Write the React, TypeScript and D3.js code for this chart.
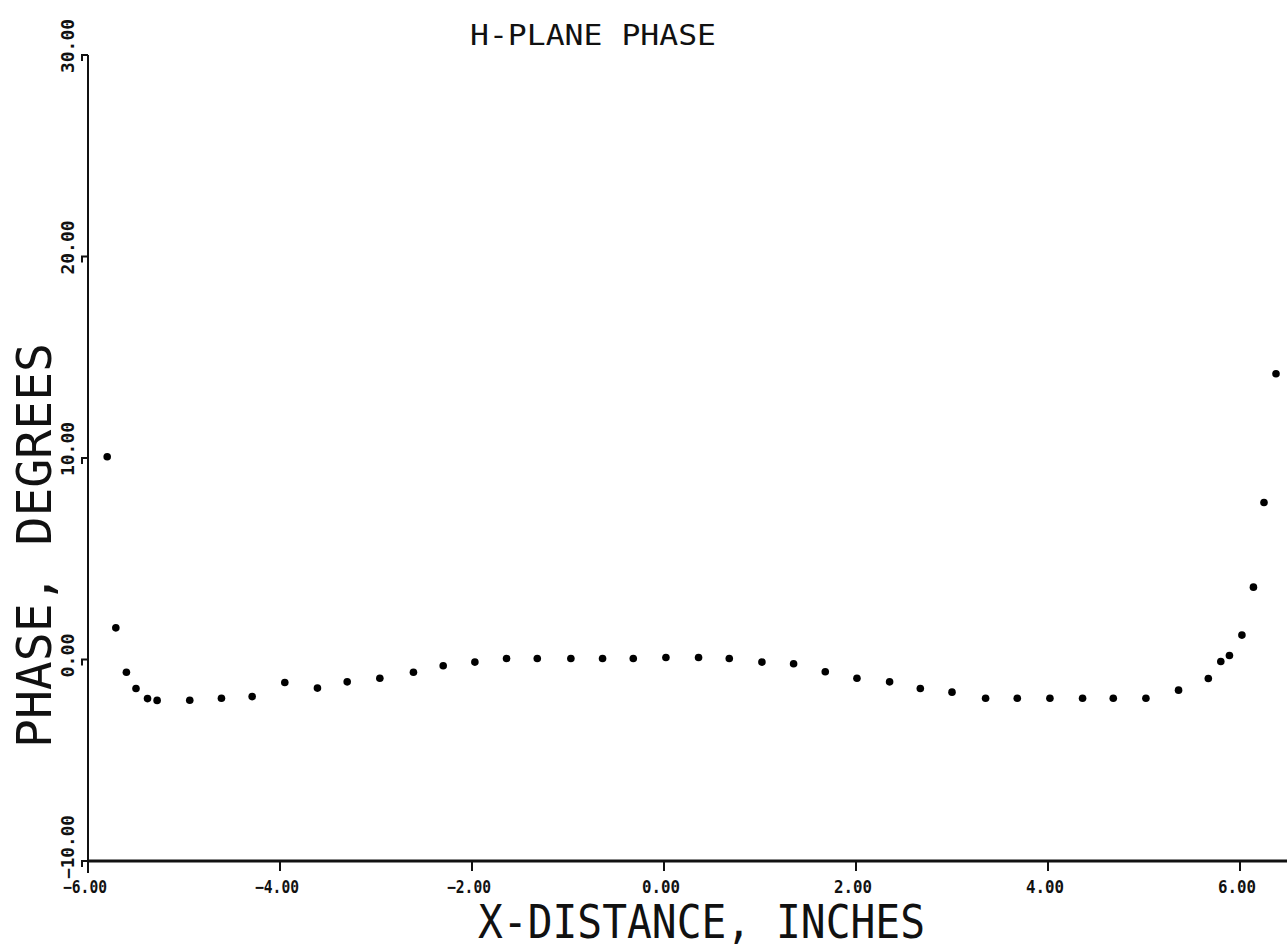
import React from "react";
import * as d3 from "d3";

const xValues = [
  -5.80, -5.71, -5.60, -5.50, -5.38, -5.28, -4.94, -4.61, -4.29, -3.95, -3.61, -3.30, -2.96, -2.61, -2.30,
  -1.97, -1.64, -1.32, -0.97, -0.64, -0.32, 0.02, 0.36, 0.68, 1.02, 1.35, 1.68, 2.01,
  2.35, 2.67, 3.00, 3.35, 3.68, 4.02, 4.36, 4.68, 5.02, 5.36, 5.67, 5.80, 5.89, 6.02, 6.14, 6.25, 6.375,
];
const phaseValues = [
  10.06, 1.57, -0.63, -1.44, -1.94, -2.03, -2.02, -1.92, -1.84, -1.14, -1.42, -1.11, -0.93, -0.63, -0.31,
  -0.13, 0.05, 0.05, 0.05, 0.05, 0.05, 0.1, 0.1, 0.05, -0.13, -0.21, -0.61, -0.93,
  -1.11, -1.44, -1.62, -1.92, -1.92, -1.92, -1.92, -1.92, -1.92, -1.52, -0.94, -0.10, 0.20, 1.21, 3.59, 7.79, 14.18,
];
const xTicks = [-6, -4, -2, 0, 2, 4, 6];
const yTicks = [-10, 0, 10, 20, 30];
const titleText = "H-PLANE PHASE";
const xTitle = "X-DISTANCE, INCHES";
const yTitle = "PHASE, DEGREES";

const W = 1287;
const H = 950;
const FONT = "'DejaVu Sans Mono', monospace";

export default function App() {
  const x = d3.scaleLinear().domain([-6, 6]).range([88, 1240]);
  const y = d3.scaleLinear().domain([-10, 30]).range([861, 55]);
  const pts = xValues.map((v, i) => ({ x: v, y: phaseValues[i] }));
  const fmt = d3.format(".2f");
  const axisY = y(-10);
  const axisX = x(-6);

  return (
    <svg width={W} height={H} style={{ position: "absolute", left: 0, top: 0, background: "#fff" }}>
      <rect x={0} y={0} width={W} height={H} fill="#fff" />
      {/* title */}
      <text x={470} y={45} fontFamily={FONT} fontSize={28} textLength={246} lengthAdjust="spacingAndGlyphs" fill="#111">
        {titleText}
      </text>
      {/* y axis */}
      <line x1={axisX} x2={axisX} y1={y(30)} y2={axisY + 12} stroke="#111" strokeWidth={2} />
      {yTicks.map((t) => (
        <g key={t}>
          <path
            d={`M${axisX},${y(t)} L${axisX - 6},${y(t)} L${axisX - 6},${y(t) + 6}`}
            fill="none"
            stroke="#111"
            strokeWidth={2}
          />
          <text
            transform={`translate(${axisX - 14},${y(t) + 18}) rotate(-90)`}
            fontFamily={FONT}
            fontSize={17}
            fontWeight="bold"
            textLength={t < 0 ? 64 : t === 0 ? 44 : 54}
            lengthAdjust="spacingAndGlyphs"
            fill="#111"
          >
            {fmt(t)}
          </text>
        </g>
      ))}
      {/* x axis */}
      <line x1={axisX} x2={W} y1={axisY} y2={axisY} stroke="#111" strokeWidth={3} />
      {xTicks.map((t) => (
        <g key={t}>
          <line x1={x(t)} x2={x(t)} y1={axisY} y2={axisY + 10} stroke="#111" strokeWidth={2} />
          <text
            x={x(t) - 3}
            y={893}
            textAnchor="middle"
            fontFamily={FONT}
            fontSize={17}
            fontWeight="bold"
            textLength={t < 0 ? 44 : 38}
            lengthAdjust="spacingAndGlyphs"
            fill="#111"
          >
            {fmt(t)}
          </text>
        </g>
      ))}
      {/* axis titles */}
      <text x={478} y={938} fontFamily={FONT} fontSize={46} textLength={447} lengthAdjust="spacingAndGlyphs" fill="#111">
        {xTitle}
      </text>
      <text
        transform={`translate(51,748) rotate(-90)`}
        fontFamily={FONT}
        fontSize={48}
        textLength={405}
        lengthAdjust="spacingAndGlyphs"
        fill="#111"
      >
        {yTitle}
      </text>
      {/* data points */}
      {pts.map((p, i) => (
        <circle key={i} cx={x(p.x)} cy={y(p.y)} r={3.8} fill="#000" />
      ))}
    </svg>
  );
}
